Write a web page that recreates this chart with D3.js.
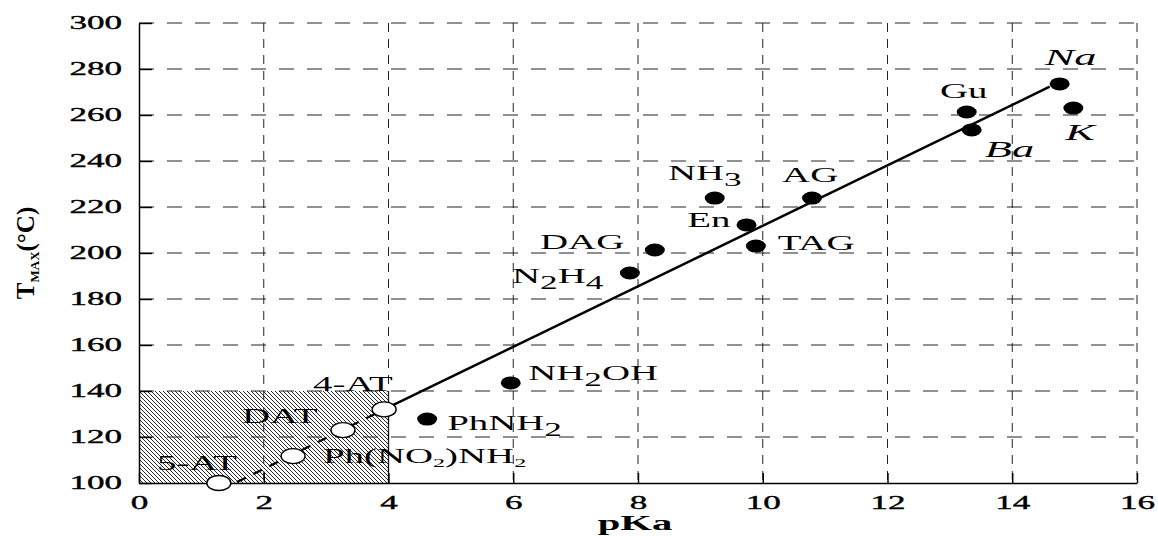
<!DOCTYPE html>
<html>
<head>
<meta charset="utf-8">
<script src="https://cdn.jsdelivr.net/npm/d3@7"></script>
<style>
  body { margin: 0; background: #fff; }
  svg { display: block; }
</style>
</head>
<body>
<div id="chart"></div>
<script>
// T_MAX vs pKa of the base

const compounds = ['5-AT', 'Ph(NO2)NH2', 'DAT', '4-AT', 'PhNH2', 'NH2OH', 'N2H4', 'DAG',
                   'NH3', 'En', 'TAG', 'AG', 'Gu', 'Ba', 'Na', 'K'];
const pKa  = [1.28, 2.47, 3.27, 3.93, 4.62, 5.96, 7.87, 8.27, 9.23, 9.74, 9.89, 10.79, 13.27, 13.35, 14.76, 14.98];
const tMax = [100, 111.7, 123, 132, 127.8, 143.5, 191.3, 201.3, 223.9, 212.2, 203, 223.9, 261.3, 253.5, 273.5, 263];
// tetrazole salts are drawn as open marks
const openMarks = ['5-AT', 'Ph(NO2)NH2', 'DAT', '4-AT'];
const metals = ['Na', 'K', 'Ba'];

// labels: "_x" means subscript x ; anchor = left end of the baseline, in data units
const labelText = ['Na', 'Gu', 'Ba', 'K', 'NH_3', 'AG', 'En', 'TAG', 'DAG', 'N_2H_4',
                   'NH_2OH', 'PhNH_2', '4-AT', 'DAT', 'Ph(NO_2)NH_2', '5-AT'];
const labelX = [14.52, 12.84, 13.56, 14.85, 8.48, 10.31, 8.79, 10.24, 6.43, 5.98,
                6.24, 4.94, 2.79, 1.65, 2.95, 0.29];
const labelY = [281.7, 267.4, 241.7, 249.1, 231.7, 230.9, 211.3, 201.3, 201.7, 187.0,
                144.8, 123.0, 140.0, 126.1, 108.7, 105.7];

// correlation line (dashed part through the tetrazoles, solid part above)
const dashedFit = [[1.57, 100.4], [3.93, 132.0]];
const solidFit  = [[3.93, 132.0], [14.6, 272.3]];

// shaded region
const zonePKa = [0, 4];
const zoneT   = [100, 140];

const xTicks = [0, 2, 4, 6, 8, 10, 12, 14, 16];
const yTicks = [100, 120, 140, 160, 180, 200, 220, 240, 260, 280, 300];

// ── layout ───────────────────────────────────────────────────────────────────
const W = 1158, H = 536, M = { top: 23, right: 21, bottom: 53, left: 139 };
const iW = W - M.left - M.right;
const iH = H - M.top - M.bottom;
const FONT = '"Liberation Serif", "Times New Roman", serif';
const S = 1.85;   // the figure is stretched horizontally, text too
const ST = 1.95;  // tick labels

const svg = d3.select('#chart').append('svg')
  .attr('width', W).attr('height', H)
  .style('background', '#fff');

const defs = svg.append('defs');
const pat = defs.append('pattern').attr('id', 'hatch')
  .attr('patternUnits', 'userSpaceOnUse').attr('width', 4).attr('height', 4);
pat.append('rect').attr('width', 4).attr('height', 4).attr('fill', '#fff');
pat.append('path').attr('d', 'M-1,-1 L5,5 M-1,3 L1,5 M3,-1 L5,1')
  .attr('stroke', '#000').attr('stroke-width', 0.85);

const g = svg.append('g').attr('transform', `translate(${M.left},${M.top})`);

const x = d3.scaleLinear().domain([0, 16]).range([0, iW]);
const y = d3.scaleLinear().domain([100, 300]).range([iH, 0]);

// hatched zone
g.append('rect')
  .attr('x', x(zonePKa[0])).attr('y', y(zoneT[1]))
  .attr('width', x(zonePKa[1]) - x(zonePKa[0]))
  .attr('height', y(zoneT[0]) - y(zoneT[1]))
  .attr('fill', 'url(#hatch)');
g.append('line')
  .attr('x1', x(zonePKa[1])).attr('x2', x(zonePKa[1]))
  .attr('y1', y(zoneT[0])).attr('y2', y(zoneT[1]))
  .attr('stroke', '#000').attr('stroke-width', 1.3);

// grid
const gridG = g.append('g');
yTicks.filter(v => v > 100).forEach(v => {
  gridG.append('line')
    .attr('x1', 0).attr('x2', iW).attr('y1', y(v)).attr('y2', y(v))
    .attr('stroke', '#222').attr('stroke-width', 1)
    .attr('stroke-dasharray', '15,13');
});
xTicks.filter(v => v > 0).forEach(v => {
  gridG.append('line')
    .attr('x1', x(v)).attr('x2', x(v)).attr('y1', 0).attr('y2', iH)
    .attr('stroke', '#222').attr('stroke-width', 1)
    .attr('stroke-dasharray', '9,7');
});

// axes
const styleAxis = ax => ax
  .call(a => a.select('.domain').attr('stroke', '#000').attr('stroke-width', 1.5))
  .call(a => a.selectAll('line').attr('stroke', '#000').attr('stroke-width', 1.4))
  .call(a => a.selectAll('text').attr('fill', '#000')
    .attr('font-family', FONT).attr('font-size', 18)
    .attr('stroke', '#000').attr('stroke-width', 0.35));

g.append('g').attr('transform', `translate(0,${iH})`)
  .call(d3.axisBottom(x).tickValues(xTicks).tickSizeInner(-10).tickSizeOuter(0).tickPadding(13))
  .call(styleAxis)
  .call(a => a.selectAll('text').attr('transform', `scale(${ST},1)`));

g.append('g')
  .call(d3.axisLeft(y).tickValues(yTicks).tickSizeInner(-13).tickSizeOuter(0).tickPadding(17))
  .call(styleAxis)
  .call(a => a.selectAll('text').attr('x', -17 / ST).attr('transform', `scale(${ST},1)`));

// correlation line
const line = d3.line().x(d => x(d[0])).y(d => y(d[1]));
g.append('path').attr('d', line(dashedFit))
  .attr('fill', 'none').attr('stroke', '#000').attr('stroke-width', 2.2)
  .attr('stroke-dasharray', '10,8');
g.append('path').attr('d', line(solidFit))
  .attr('fill', 'none').attr('stroke', '#000').attr('stroke-width', 2.5);

// markers
const pts = compounds.map((c, i) => ({ c, x: pKa[i], y: tMax[i], open: openMarks.includes(c) }));
g.selectAll('.mark')
  .data(pts)
  .join('ellipse')
  .attr('class', 'mark')
  .attr('cx', d => x(d.x)).attr('cy', d => y(d.y))
  .attr('rx', d => d.open ? 12 : 10)
  .attr('ry', d => d.open ? 7.5 : 6.5)
  .attr('fill', d => d.open ? '#fff' : '#000')
  .attr('stroke', '#000').attr('stroke-width', d => d.open ? 1.4 : 0);

// labels
function addLabel(txt, lx, ly) {
  const italic = metals.includes(txt);
  const smallSub = txt.includes('(');
  const t = g.append('g')
    .attr('transform', `translate(${x(lx)},${y(ly)}) scale(${S},1)`)
    .append('text')
    .attr('font-family', FONT)
    .attr('font-size', italic ? 24 : 21)
    .attr('font-style', italic ? 'italic' : 'normal')
    .attr('fill', '#000');
  const parts = txt.split(/(_.)/).filter(p => p.length);
  let shift = 0;
  parts.forEach(p => {
    const sub = p[0] === '_';
    const target = sub ? (smallSub ? 4 : 6) : 0;
    t.append('tspan')
      .attr('dy', target - shift)
      .attr('font-size', sub ? (smallSub ? 13 : 19) : null)
      .text(sub ? p.slice(1) : p);
    shift = target;
  });
}
labelText.forEach((t, i) => addLabel(t, labelX[i], labelY[i]));

// axis titles
svg.append('text')
  .attr('transform', `translate(635,530) scale(${S},1)`)
  .attr('text-anchor', 'middle')
  .attr('font-family', FONT).attr('font-size', 22).attr('font-weight', 'bold')
  .text('pKa');

const yTitle = svg.append('text')
  .attr('transform', `translate(34,${M.top + iH / 2}) rotate(-90)`)
  .attr('text-anchor', 'middle')
  .attr('font-family', FONT).attr('font-size', 25).attr('font-weight', 'bold');
yTitle.append('tspan').text('T');
yTitle.append('tspan').attr('font-size', 13).attr('dy', 5).text('MAX');
yTitle.append('tspan').attr('dy', -5).text('(°C)');
</script>
</body>
</html>
